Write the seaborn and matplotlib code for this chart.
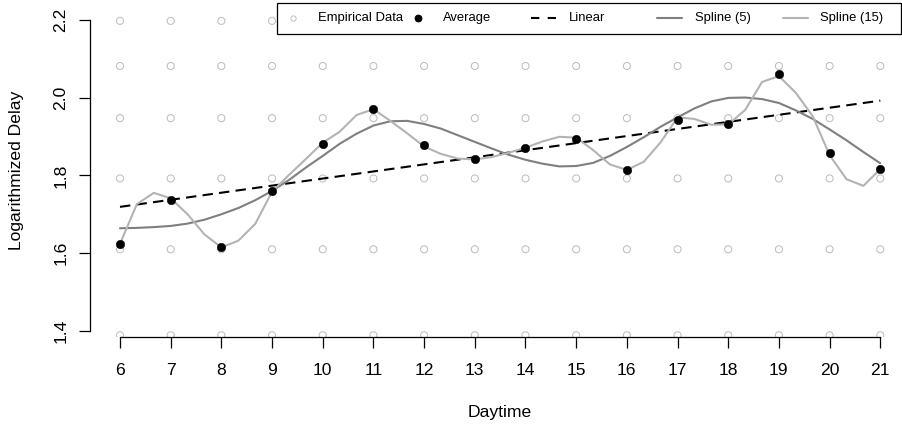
import numpy as np
import pandas as pd
import matplotlib
matplotlib.use("Agg")
import matplotlib.pyplot as plt
import seaborn as sns
from matplotlib.lines import Line2D
from matplotlib.patches import Rectangle

# ---------------- data ----------------
hours = list(range(6, 22))
empirical_levels = [1.389, 1.610, 1.792, 1.947, 2.081, 2.197]
average = [1.624, 1.737, 1.616, 1.760, 1.880, 1.971, 1.877, 1.841,
           1.870, 1.893, 1.815, 1.943, 1.931, 2.061, 1.857, 1.817]
linear_hours = [6, 21]
linear_fit = [1.719, 1.992]
spline_hours = np.linspace(6, 21, 46)
spline5 = [1.664, 1.665, 1.667, 1.670, 1.676, 1.686, 1.700, 1.716, 1.736,
           1.760, 1.788, 1.820, 1.850, 1.881, 1.907, 1.928, 1.939, 1.940,
           1.932, 1.920, 1.903, 1.886, 1.869, 1.853, 1.840, 1.830, 1.823,
           1.824, 1.832, 1.850, 1.873, 1.898, 1.925, 1.949, 1.972, 1.990,
           1.999, 2.000, 1.996, 1.986, 1.967, 1.945, 1.918, 1.890, 1.860,
           1.831]
spline15 = [1.624, 1.726, 1.755, 1.741, 1.700, 1.648, 1.615, 1.632, 1.675,
            1.758, 1.801, 1.842, 1.884, 1.912, 1.955, 1.970, 1.940, 1.908,
            1.874, 1.855, 1.843, 1.841, 1.847, 1.858, 1.871, 1.887, 1.899,
            1.897, 1.865, 1.828, 1.814, 1.835, 1.885, 1.949, 1.945, 1.930,
            1.931, 1.968, 2.040, 2.055, 2.012, 1.952, 1.852, 1.790, 1.773,
            1.816]
yticks = [1.4, 1.6, 1.8, 2.0, 2.2]
legend_labels = ["Empirical Data", "Average", "Linear", "Spline (5)", "Spline (15)"]

# ---------------- styling ----------------
sns.set_theme(style="white")
plt.rcParams["font.family"] = ["Liberation Sans", "DejaVu Sans"]

W, H = 902, 426
fig = plt.figure(figsize=(W / 100, H / 100), dpi=100)
L, R, T, B = 89.5, 900.5, 2.7, 337.3
ax = fig.add_axes([L / W, (H - B) / H, (R - L) / W, (B - T) / H])

emp = pd.DataFrame([(h, v) for h in hours for v in empirical_levels],
                   columns=["hour", "value"])
avg = pd.DataFrame({"hour": hours, "value": average})
lin = pd.DataFrame({"hour": linear_hours, "value": linear_fit})
spl = pd.DataFrame({"hour": spline_hours, "s5": spline5, "s15": spline15})

c_emp, c_s5, c_s15 = "#bebebe", "#7f7f7f", "#b3b3b3"

sns.scatterplot(data=emp, x="hour", y="value", ax=ax, marker="o", s=26,
                facecolor="none", edgecolor=c_emp, linewidth=0.75, zorder=2)
sns.lineplot(data=lin, x="hour", y="value", ax=ax, color="black", lw=1.5,
             linestyle=(0, (5, 3)), zorder=3)
sns.lineplot(data=spl, x="hour", y="s5", ax=ax, color=c_s5, lw=1.5, zorder=3)
sns.lineplot(data=spl, x="hour", y="s15", ax=ax, color=c_s15, lw=1.5, zorder=3)
sns.scatterplot(data=avg, x="hour", y="value", ax=ax, color="black", s=38,
                edgecolor="black", linewidth=0.3, zorder=4)

# axis limits (pixel mapping measured from reference)
px_per_hour = (880.3 - 120.0) / 15
ax.set_xlim(6 - (120.0 - L) / px_per_hour, 21 + (R - 880.3) / px_per_hour)
px_per_unit = (331.0 - 19.7) / 0.8
ax.set_ylim(1.4 - (B - 331.0) / px_per_unit, 2.2 + (19.7 - T) / px_per_unit)

for s in ["top", "right"]:
    ax.spines[s].set_visible(False)
for s in ["left", "bottom"]:
    ax.spines[s].set_color("black")
    ax.spines[s].set_linewidth(0.9)
ax.spines["left"].set_bounds(1.4, 2.2)
ax.spines["bottom"].set_bounds(6, 21)

ax.set_xticks(hours)
ax.set_xticklabels([str(h) for h in hours])
ax.set_yticks(yticks)
ax.set_yticklabels([f"{v:.1f}" for v in yticks], rotation=90, va="center")
ax.tick_params(axis="both", direction="out", length=7.7, width=0.9,
               colors="black", labelsize=12.6, left=True, bottom=True)
ax.tick_params(axis="x", pad=11)
ax.tick_params(axis="y", pad=7.6)

ax.set_xlabel("Daytime", fontsize=12.6, color="black")
ax.set_ylabel("Logarithmized Delay", fontsize=12.6, color="black")
ax.xaxis.set_label_coords((500 - L) / (R - L), (B - 412) / (B - T))
ax.xaxis.label.set_va("center")
ax.yaxis.set_label_coords((17 - L) / (R - L), 0.5)
ax.yaxis.label.set_va("center")
ax.grid(False)

# ---------------- legend (R style, equal column spacing) ----------------
def fx(x):
    return x / W

def fy(y):
    return 1 - y / H

fig.add_artist(Rectangle((fx(277.3), fy(34.3)), fx(900.5) - fx(277.3),
                         fy(2.7) - fy(34.3), transform=fig.transFigure,
                         facecolor="white", edgecolor="black", lw=0.9, zorder=5))
row_y = 18.3
centers = [293.0, 418.4, 543.4, 669.6, 795.2]
handles = [
    dict(marker="o", ls="none", mfc="none", mec=c_emp, ms=3.8, mew=0.7),
    dict(marker="o", ls="none", mfc="black", mec="black", ms=4.6),
    dict(color="black", lw=1.5, ls=(0, (4, 4))),
    dict(color=c_s5, lw=1.5),
    dict(color=c_s15, lw=1.5),
]
for cx, kw, lab in zip(centers, handles, legend_labels):
    if "marker" in kw:
        xs = [fx(cx)]
        ys = [fy(row_y)]
    else:
        xs = [fx(cx - 12.3), fx(cx + 12.3)]
        ys = [fy(row_y), fy(row_y)]
    fig.add_artist(Line2D(xs, ys, transform=fig.transFigure, zorder=6, **kw))
    fig.text(fx(cx + 25), fy(row_y), lab, fontsize=9.4, ha="left",
             va="center", color="black", zorder=7)

fig.savefig("out.png", dpi=100)
